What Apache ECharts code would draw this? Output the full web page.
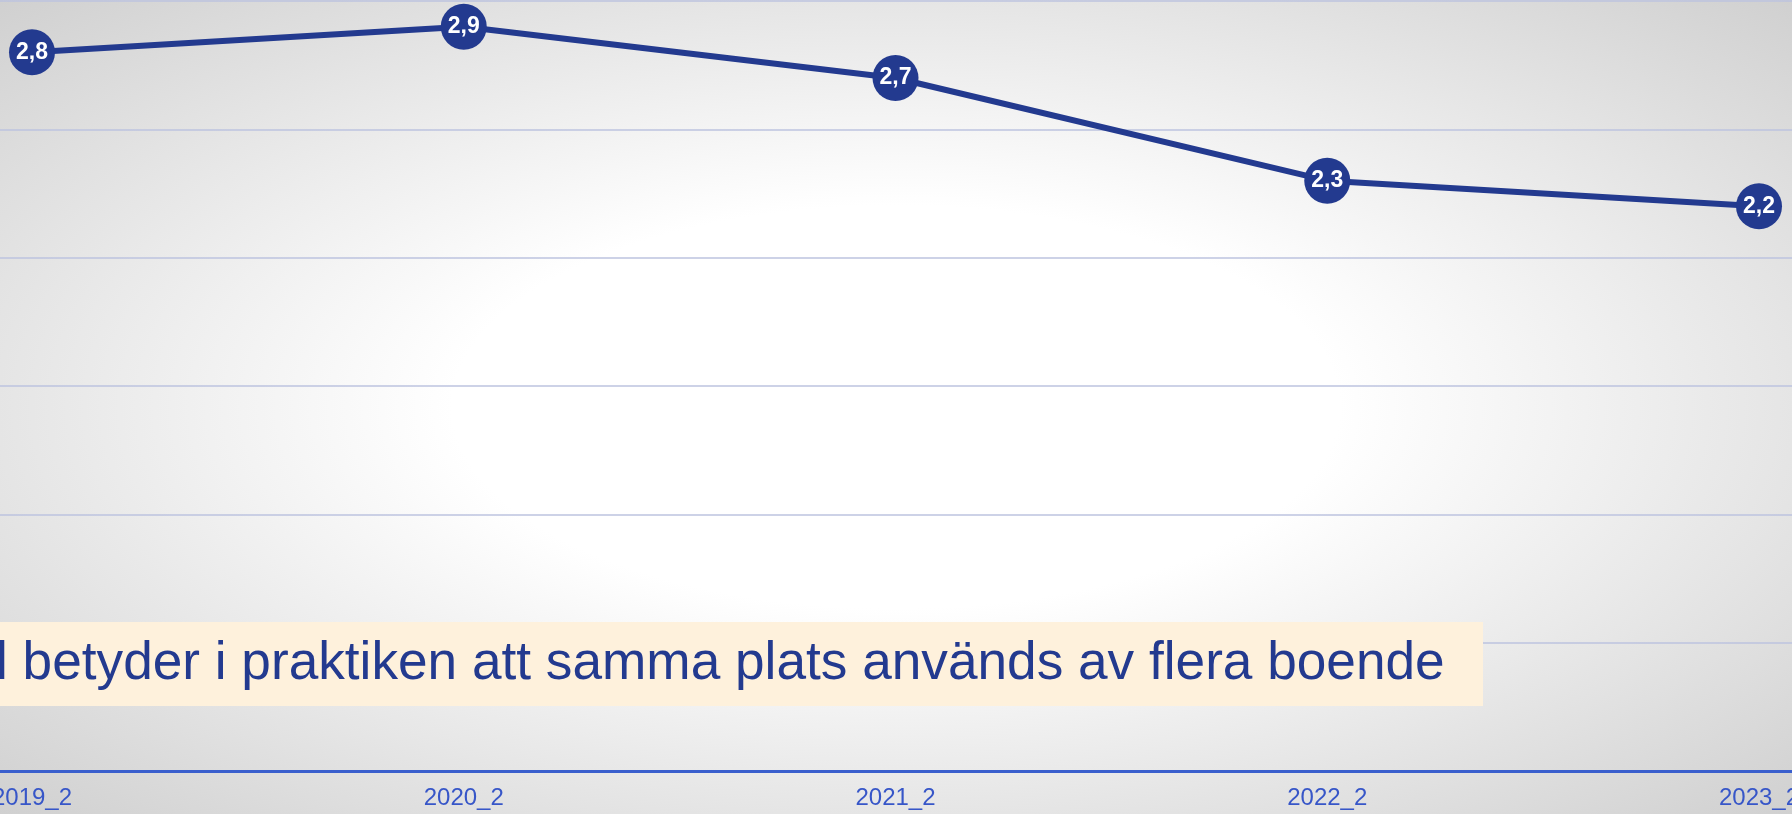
<!DOCTYPE html>
<html>
<head>
<meta charset="utf-8">
<script src="https://cdn.jsdelivr.net/npm/echarts@6/dist/echarts.min.js"></script>
<style>
  html, body { margin: 0; padding: 0; }
  #chart {
    width: 1792px;
    height: 814px;
    background: radial-gradient(ellipse at 50% 50%, #ffffff 35%, #d0d0d0 100%);
  }
</style>
</head>
<body>
<div id="chart"></div>
<script>
// data
const periods = ['2019_2', '2020_2', '2021_2', '2022_2', '2023_2']
const values = [2.8, 2.9, 2.7, 2.3, 2.2]
const note = 'l betyder i praktiken att samma plats används av flera boende'

const myChart = echarts.init(document.getElementById('chart'))

const option = {
  backgroundColor: 'transparent',
  animation: false,
  grid: [
    // full width: grid lines + bottom axis line (slide is cropped)
    { left: 0, right: 0, top: 1, bottom: 43, outerBoundsMode: 'none' },
    // the line itself, labels may run off the edge
    { left: 32, right: 33, top: 1, bottom: 43, outerBoundsMode: 'none' }
  ],
  xAxis: [
    {
      gridIndex: 0,
      type: 'value',
      min: 0,
      max: 1,
      axisTick: { show: false },
      axisLabel: { show: false },
      splitLine: { show: false },
      axisLine: {
        onZero: false,
        lineStyle: { color: '#3a5fcd', width: 3 }
      }
    },
    {
      gridIndex: 1,
      type: 'category',
      data: periods,
      boundaryGap: false,
      axisTick: { show: false },
      axisLine: { show: false },
      axisLabel: {
        color: '#3756c8',
        fontFamily: 'Liberation Sans',
        fontSize: 24,
        margin: 15,
        interval: 0
      }
    }
  ],
  yAxis: [
    {
      gridIndex: 0,
      type: 'value',
      min: 0,
      max: 3,
      interval: 0.5,
      axisLabel: { show: false },
      axisLine: { show: false },
      axisTick: { show: false },
      splitLine: {
        lineStyle: { color: '#bcc3df', width: 1.5 }
      }
    },
    {
      gridIndex: 1,
      type: 'value',
      min: 0,
      max: 3,
      interval: 0.5,
      axisLabel: { show: false },
      axisLine: { show: false },
      axisTick: { show: false },
      splitLine: { show: false }
    }
  ],
  series: [
    {
      type: 'line',
      xAxisIndex: 1,
      yAxisIndex: 1,
      data: values,
      symbol: 'circle',
      symbolSize: 46,
      lineStyle: { color: '#233a8f', width: 6 },
      itemStyle: { color: '#233a8f' },
      label: {
        show: true,
        position: 'inside',
        color: '#ffffff',
        fontFamily: 'Liberation Sans',
        fontWeight: 'bold',
        fontSize: 23,
        formatter: p => p.value.toFixed(1).replace('.', ',')
      },
      z: 3
    }
  ],
  graphic: [
    {
      type: 'rect',
      shape: { x: 0, y: 622, width: 1483, height: 84 },
      style: { fill: '#fef1dc' },
      z: 10
    },
    {
      type: 'text',
      x: -4,
      y: 664,
      style: {
        text: note,
        fill: '#233a8f',
        font: '53.2px "Liberation Sans"',
        verticalAlign: 'middle'
      },
      z: 11
    }
  ]
}

myChart.setOption(option)
</script>
</body>
</html>
